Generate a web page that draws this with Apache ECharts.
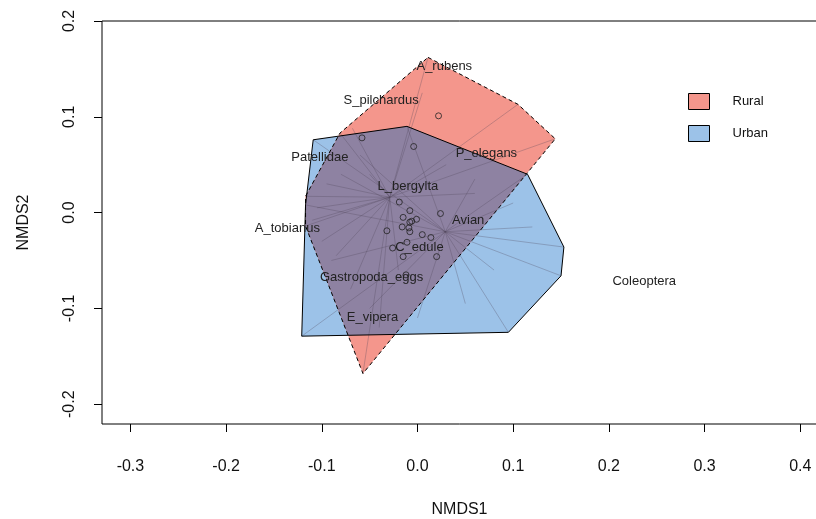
<!DOCTYPE html>
<html>
<head>
<meta charset="utf-8">
<script src="https://cdn.jsdelivr.net/npm/echarts@6/dist/echarts.min.js"></script>
<style>
  html, body { margin: 0; background: #fff; }
  #main { width: 816px; height: 519px; }
</style>
</head>
<body>
<div id="main"></div>
<script>
// hull vertices [NMDS1, NMDS2]
var ruralHull = [[0.011, 0.162], [0.105, 0.113], [0.144, 0.077], [-0.057, -0.168], [-0.117, -0.014], [-0.117, 0.017], [-0.081, 0.083]];
var urbanHull = [[-0.109, 0.076], [-0.011, 0.090], [0.115, 0.040], [0.153, -0.036], [0.150, -0.066], [0.095, -0.125], [-0.121, -0.129], [-0.117, 0.008]];

// group centres (spider hubs)
var ruralCentre = [-0.029, 0.016];
var urbanCentre = [0.029, -0.020];

// site scores (spider ends)
var ruralSites = [[0.011, 0.162], [0.105, 0.113], [0.144, 0.077], [-0.057, -0.168], [-0.117, -0.014], [-0.117, 0.017], [-0.081, 0.083],
  [-0.068, 0.088], [-0.095, 0.030], [-0.100, -0.030], [-0.070, -0.080], [-0.040, -0.120], [0.005, 0.125], [0.060, 0.020], [-0.020, -0.060],
  [-0.105, 0.005], [-0.110, -0.008], [-0.085, -0.045], [0.030, 0.050], [-0.050, 0.040]];
var urbanSites = [[-0.109, 0.076], [-0.011, 0.090], [0.115, 0.040], [0.153, -0.036], [0.150, -0.066], [0.095, -0.125], [-0.121, -0.129], [-0.117, 0.008],
  [0.080, -0.060], [0.050, -0.095], [0.120, -0.015], [0.100, 0.010], [-0.050, -0.100], [-0.090, -0.050], [-0.080, 0.040], [0.000, -0.110],
  [-0.060, 0.060], [0.060, 0.035]];

// species scores without room for a label
var speciesPts = [[-0.019, 0.011], [-0.008, 0.002], [-0.015, -0.005], [-0.001, -0.007], [-0.006, -0.009], [-0.008, -0.010], [0.024, -0.001],
  [-0.032, -0.019], [-0.016, -0.015], [-0.009, -0.016], [-0.008, -0.020], [0.005, -0.023], [0.014, -0.026], [-0.011, -0.031],
  [-0.026, -0.037], [0.020, -0.046], [-0.015, -0.046], [-0.012, -0.065], [0.022, 0.101], [-0.058, 0.078], [-0.004, 0.069]];

// labelled species
var speciesNames = ['A_rubens', 'S_pilchardus', 'Patellidae', 'P_elegans', 'L_bergylta', 'A_tobianus', 'Avian', 'C_edule', 'Gastropoda_eggs', 'E_vipera', 'Coleoptera'];
var speciesLabelPos = [[0.028, 0.153], [-0.038, 0.117], [-0.102, 0.058], [0.072, 0.062], [-0.010, 0.027], [-0.136, -0.017], [0.053, -0.008],
  [0.002, -0.036], [-0.048, -0.068], [-0.047, -0.109], [0.237, -0.072]];

var xTicks = [-0.3, -0.2, -0.1, 0.0, 0.1, 0.2, 0.3, 0.4];
var yTicks = [-0.2, -0.1, 0.0, 0.1, 0.2];

var ruralColor = '#F4968C';
var urbanColor = '#9CC2E8';
var overlapColor = '#8E82A2';

// clip one convex polygon by another (Sutherland-Hodgman)
function clipPoly(subject, clip) {
  var area = 0;
  for (var k = 0; k < clip.length; k++) {
    var p = clip[k], q = clip[(k + 1) % clip.length];
    area += p[0] * q[1] - q[0] * p[1];
  }
  var sgn = area > 0 ? 1 : -1;
  var out = subject.slice();
  for (var i = 0; i < clip.length; i++) {
    var a = clip[i], b = clip[(i + 1) % clip.length];
    var inside = function (pt) {
      return sgn * ((b[0] - a[0]) * (pt[1] - a[1]) - (b[1] - a[1]) * (pt[0] - a[0])) >= 0;
    };
    var cut = function (p1, p2) {
      var dx = p2[0] - p1[0], dy = p2[1] - p1[1];
      var ex = b[0] - a[0], ey = b[1] - a[1];
      var t = (ex * (p1[1] - a[1]) - ey * (p1[0] - a[0])) / (ey * dx - ex * dy);
      return [p1[0] + t * dx, p1[1] + t * dy];
    };
    var inp = out;
    out = [];
    for (var j = 0; j < inp.length; j++) {
      var cur = inp[j], prev = inp[(j + inp.length - 1) % inp.length];
      if (inside(cur)) {
        if (!inside(prev)) out.push(cut(prev, cur));
        out.push(cur);
      } else if (inside(prev)) {
        out.push(cut(prev, cur));
      }
    }
  }
  return out;
}
var overlapHull = clipPoly(ruralHull, urbanHull);

function hullSeries(name, hull, style, z) {
  return {
    name: name,
    type: 'custom',
    z: z,
    silent: true,
    itemStyle: { color: style.fill === 'none' ? '#000' : style.fill, borderColor: '#000', borderWidth: 1 },
    data: [[0, 0]],
    renderItem: function (params, api) {
      var pts = hull.map(function (p) { return api.coord(p); });
      return { type: 'polygon', shape: { points: pts }, style: style };
    }
  };
}

function spiderSeries(name, centre, sites) {
  return {
    name: name,
    type: 'custom',
    z: 4,
    silent: true,
    data: sites,
    renderItem: function (params, api) {
      var c = api.coord(centre);
      var e = api.coord([api.value(0), api.value(1)]);
      return {
        type: 'line',
        shape: { x1: c[0], y1: c[1], x2: e[0], y2: e[1] },
        style: { stroke: 'rgba(80,70,90,0.3)', lineWidth: 1 }
      };
    }
  };
}

var myChart = echarts.init(document.getElementById('main'));
myChart.setOption({
  animation: false,
  grid: {
    left: 102, top: 21, right: -1, bottom: 95,
    outerBoundsMode: 'none',
    show: true, borderColor: '#000', borderWidth: 1, backgroundColor: 'transparent'
  },
  legend: {
    orient: 'vertical',
    left: 683, top: 88,
    itemWidth: 21, itemHeight: 16, itemGap: 15,
    icon: 'rect',
    data: [
      { name: 'Rural', itemStyle: { color: ruralColor, borderColor: '#000', borderWidth: 1 } },
      { name: 'Urban', itemStyle: { color: urbanColor, borderColor: '#000', borderWidth: 1 } }
    ],
    textStyle: { fontFamily: 'Liberation Sans', fontSize: 13, color: '#111', padding: [0, 0, 0, 18] }
  },
  xAxis: {
    type: 'value',
    min: -0.3297, max: 0.4175,
    name: 'NMDS1', nameLocation: 'middle', nameGap: 78,
    nameTextStyle: { fontFamily: 'Liberation Sans', fontSize: 16, color: '#111' },
    axisLine: { show: false, onZero: false },
    axisTick: { show: true, length: 8, lineStyle: { color: '#000' }, customValues: xTicks },
    axisLabel: {
      customValues: xTicks, margin: 35,
      fontFamily: 'Liberation Sans', fontSize: 16, color: '#111',
      formatter: function (v) { return v.toFixed(1); }
    },
    splitLine: { show: false }
  },
  yAxis: {
    type: 'value',
    min: -0.2207, max: 0.2,
    name: 'NMDS2', nameLocation: 'middle', nameGap: 70,
    nameTextStyle: { fontFamily: 'Liberation Sans', fontSize: 16, color: '#111' },
    axisLine: { show: false, onZero: false },
    axisTick: { show: true, length: 8, lineStyle: { color: '#000' }, customValues: yTicks },
    axisLabel: {
      customValues: yTicks, margin: 24, rotate: 90,
      fontFamily: 'Liberation Sans', fontSize: 16, color: '#111',
      formatter: function (v) { return v.toFixed(1); }
    },
    splitLine: { show: false }
  },
  series: [
    hullSeries('Urban', urbanHull, { fill: urbanColor, stroke: 'none' }, 1),
    hullSeries('Rural', ruralHull, { fill: ruralColor, stroke: 'none' }, 2),
    hullSeries('overlap', overlapHull, { fill: overlapColor, stroke: 'none' }, 3),
    spiderSeries('ruralSpider', ruralCentre, ruralSites),
    spiderSeries('urbanSpider', urbanCentre, urbanSites),
    hullSeries('urbanEdge', urbanHull, { fill: 'none', stroke: '#000', lineWidth: 1 }, 5),
    hullSeries('ruralEdge', ruralHull, { fill: 'none', stroke: '#000', lineWidth: 1, lineDash: [4, 3] }, 5),
    {
      name: 'species',
      type: 'scatter',
      z: 6,
      silent: true,
      symbol: 'circle',
      symbolSize: 6,
      itemStyle: { color: 'rgba(0,0,0,0)', borderColor: '#222', borderWidth: 1 },
      data: speciesPts
    },
    {
      name: 'speciesLabels',
      type: 'custom',
      z: 7,
      silent: true,
      data: speciesLabelPos.map(function (p, i) { return [p[0], p[1], i]; }),
      renderItem: function (params, api) {
        var c = api.coord([api.value(0), api.value(1)]);
        return {
          type: 'text',
          x: c[0], y: c[1],
          style: {
            text: speciesNames[api.value(2)],
            fill: '#222',
            font: '13px "Liberation Sans"',
            align: 'center',
            verticalAlign: 'middle'
          }
        };
      }
    }
  ]
});
</script>
</body>
</html>
